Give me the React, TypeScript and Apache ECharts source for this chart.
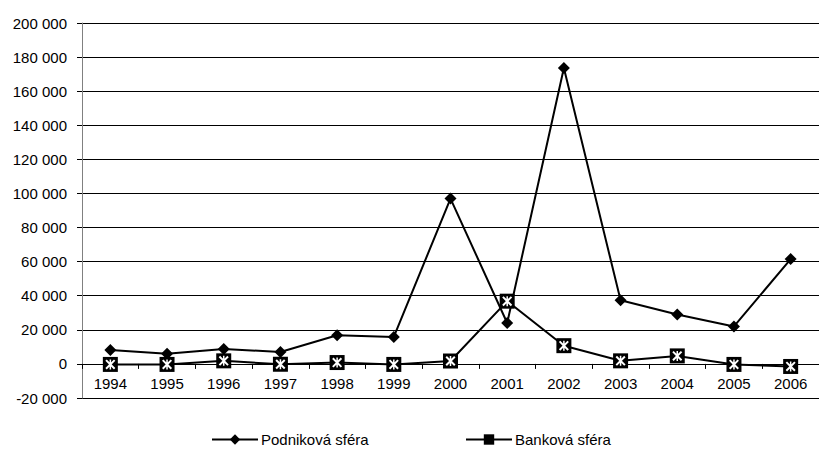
import React, { useEffect, useRef } from "react";
import * as echarts from "echarts";

const years = ["1994", "1995", "1996", "1997", "1998", "1999", "2000", "2001", "2002", "2003", "2004", "2005", "2006"];
const podnikova = [8200, 6000, 8800, 7000, 16800, 15800, 97000, 24000, 173600, 37300, 29000, 22000, 61500];
const bankova = [-300, -300, 1800, -200, 800, -300, 1700, 36800, 10700, 1800, 4700, -300, -1500];
const seriesNames = ["Podniková sféra", "Banková sféra"];
const yMin = -20000;
const yMax = 200000;
const yStep = 20000;

const FONT = "'Liberation Sans', Arial, sans-serif";
const GRID_TOP = 23;
const GRID_BOTTOM = 57;
const H = 455;

const X_PATH =
  "path://M0,1.4L1.4,0L10,8.6L8.6,10ZM8.6,0L10,1.4L1.4,10L0,8.6ZM4.25,0L5.75,0L5.75,10L4.25,10Z";

function fmt(v: number): string {
  return String(v).replace(/\B(?=(\d{3})+(?!\d))/g, " ");
}

export default function App() {
  const ref = useRef<HTMLDivElement>(null);
  useEffect(() => {
    document.body.style.margin = "0";
    const chart = echarts.init(ref.current!, null, { renderer: "svg" });
    const gridH = H - GRID_TOP - GRID_BOTTOM;
    const zeroOffset = ((0 - yMin) / (yMax - yMin)) * gridH;
    const legendCommon = {
      top: 432,
      padding: 0,
      itemWidth: 46,
      itemHeight: 13,
      itemGap: 0,
      textStyle: { fontFamily: FONT, fontSize: 15, color: "#000", padding: [0, 0, 0, -2] },
    };
    chart.setOption({
      animation: false,
      backgroundColor: "#fff",
      textStyle: { fontFamily: FONT },
      grid: { left: 82, top: GRID_TOP, width: 738, bottom: GRID_BOTTOM, containLabel: false },
      legend: [
        { ...legendCommon, data: [seriesNames[0]], left: 211 },
        { ...legendCommon, data: [seriesNames[1]], left: 465 },
      ],
      xAxis: {
        type: "category",
        data: years,
        boundaryGap: true,
        offset: -zeroOffset,
        axisLine: { onZero: false, lineStyle: { color: "#000", width: 1 } },
        axisTick: { show: true, length: 5, lineStyle: { color: "#000" } },
        axisLabel: { color: "#000", fontSize: 15, margin: 12, fontFamily: FONT, interval: 0 },
        splitLine: { show: false },
      },
      yAxis: {
        type: "value",
        min: yMin,
        max: yMax,
        interval: yStep,
        axisLine: { show: true, lineStyle: { color: "#808080", width: 1 } },
        axisTick: { show: true, length: 5, lineStyle: { color: "#000" } },
        axisLabel: { color: "#000", fontSize: 15, margin: 15, fontFamily: FONT, formatter: fmt },
        splitLine: { show: true, lineStyle: { color: "#000", width: 1 } },
      },
      series: [
        {
          name: seriesNames[0],
          type: "line",
          data: podnikova,
          symbol: "diamond",
          symbolSize: 12,
          showAllSymbol: true,
          lineStyle: { color: "#000", width: 2 },
          itemStyle: { color: "#000", borderColor: "#000", borderWidth: 0 },
          z: 3,
        },
        {
          name: seriesNames[1],
          type: "line",
          data: bankova,
          symbol: "rect",
          symbolSize: 15,
          showAllSymbol: true,
          lineStyle: { color: "#000", width: 2 },
          itemStyle: { color: "#000", borderColor: "#000", borderWidth: 0, opacity: 1 },
          z: 4,
        },
        {
          name: "bankova-x",
          type: "line",
          data: bankova,
          symbol: X_PATH,
          symbolSize: 10,
          showAllSymbol: true,
          silent: true,
          lineStyle: { opacity: 0, width: 0 },
          itemStyle: { color: "#fff", borderWidth: 0 },
          z: 5,
        },
      ],
    });
    return () => chart.dispose();
  }, []);
  return <div ref={ref} style={{ position: "fixed", left: 0, top: 0, width: 819, height: 455 }} />;
}
